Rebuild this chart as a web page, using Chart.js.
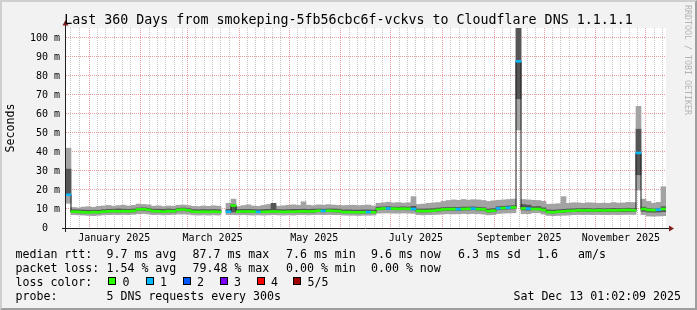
<!DOCTYPE html>
<html>
<head>
<meta charset="utf-8">
<script src="https://cdn.jsdelivr.net/npm/chart.js@4.4.1/dist/chart.umd.min.js"></script>
<style>
  html, body { margin: 0; padding: 0; background: #f2f2f2; }
  #wrap { position: relative; width: 697px; height: 310px; background: #f2f2f2; overflow: hidden;
          font-family: 'DejaVu Sans Mono', monospace; color: #000; }
  #frame { position: absolute; left: 0; top: 0; width: 697px; height: 310px; box-sizing: border-box;
           border-style: solid; border-width: 2px; border-color: #cfcfcf #9e9e9e #9e9e9e #cfcfcf; pointer-events: none; }
  canvas { position: absolute; left: 0; top: 0; }
  #title { position: absolute; left: 0; top: 11.5px; width: 697px; text-align: center; white-space: pre;
           font-size: 13.3px; line-height: 16px; }
  #wm { position: absolute; left: 682.5px; top: 5px; writing-mode: vertical-rl; white-space: pre;
        font-size: 8.3px; line-height: 10px; color: #b4b4b4; }
  .t { position: absolute; white-space: pre; font-size: 11.6px; line-height: 14px; }
  .sw { position: absolute; top: 277px; width: 8px; height: 8px; box-sizing: border-box; border: 1px solid #000; }
</style>
</head>
<body>
<div id="wrap">
  <canvas id="chart" width="697" height="310"></canvas>
  <div id="title">Last 360 Days from smokeping-5fb56cbc6f-vckvs to Cloudflare DNS 1.1.1.1</div>
  <div id="wm">RRDTOOL / TOBI OETIKER</div>

  <span class="t" style="left:15.5px;top:247px">median rtt:</span>
  <span class="t" style="left:106.5px;top:247px">9.7 ms avg</span>
  <span class="t" style="left:192.5px;top:247px">87.7 ms max</span>
  <span class="t" style="left:286px;top:247px">7.6 ms min</span>
  <span class="t" style="left:371px;top:247px">9.6 ms now</span>
  <span class="t" style="left:458px;top:247px">6.3 ms sd</span>
  <span class="t" style="left:537px;top:247px">1.6</span>
  <span class="t" style="left:578px;top:247px">am/s</span>

  <span class="t" style="left:15.5px;top:261px">packet loss:</span>
  <span class="t" style="left:106.5px;top:261px">1.54 % avg</span>
  <span class="t" style="left:192.5px;top:261px">79.48 % max</span>
  <span class="t" style="left:286px;top:261px">0.00 % min</span>
  <span class="t" style="left:371px;top:261px">0.00 % now</span>

  <span class="t" style="left:15.5px;top:275px">loss color:</span>
  <div id="lossKey"></div>

  <span class="t" style="left:15.5px;top:289px">probe:</span>
  <span class="t" style="left:106.5px;top:289px">5 DNS requests every 300s</span>
  <span class="t" style="right:16px;top:289px">Sat Dec 13 01:02:09 2025</span>

  <div id="frame"></div>
</div>
<script>
// 360 days ending Sat Dec 13 01:02:09 2025, read in 3-day buckets (ms)
const BUCKET_DAYS = 3;
const smokeLow = [
  13, 7.0, 6.9, 6.8, 6.6, 6.5, 6.7, 6.9, 7.0, 7.1, 7.0, 7.1, 7.0, 7.2, 7.5, 7.6, 7.4, 7.0, 7.1, 6.9,
  7.0, 7.1, 7.3, 7.4, 7.2, 6.9, 6.8, 6.9, 6.8, 6.9, 6.8, null, 7.0, 7.0, 6.9, 7.0, 6.9, 6.8, 6.9, 6.8,
  6.9, 7.0, 6.9, 6.8, 6.9, 6.8, 7.0, 7.0, 6.9, 7.0, 7.1, 7.0, 7.1, 7.0, 7.0, 6.8, 6.7, 6.7, 6.6, 6.7,
  6.7, 6.8, 7.8, 7.9, 7.9, 7.8, 7.8, 7.9, 7.8, 7.7, 7.0, 6.9, 7.0, 7.1, 7.2, 7.4, 7.5, 7.4, 7.5, 7.6,
  7.5, 7.6, 7.5, 7.3, 6.9, 7.0, 7.6, 7.8, 7.9, 8.0, 51.6, 7.5, 7.5, 8.0, 8.0, 7.3, 6.6, 6.5, 6.6, 6.7,
  6.8, 7.0, 7.1, 7.0, 7.1, 7.0, 7.1, 7.0, 7.0, 7.1, 7.0, 7.1, 7.2, 7.1, 20, 7.0, 6.3, 6.2, 6.3, 6.5
];
const smokeHigh = [
  42, 10.8, 10.6, 11.0, 11.2, 10.9, 11.4, 11.6, 11.9, 11.5, 11.8, 12.0, 11.6, 11.9, 12.6, 12.4, 12.2, 11.5, 11.7, 11.3,
  11.6, 11.5, 12.0, 12.1, 11.8, 11.4, 11.3, 11.6, 11.4, 11.7, 11.5, null, 13.0, 15.2, 11.3, 11.8, 12.2, 11.6, 11.4, 11.9,
  12.4, 11.8, 11.5, 11.7, 12.0, 12.2, 11.9, 13.8, 12.0, 11.8, 12.2, 12.0, 12.3, 12.1, 11.9, 11.8, 11.9, 12.0, 11.8, 11.9,
  12.1, 11.6, 13.0, 13.3, 13.6, 13.2, 13.4, 13.1, 13.3, 16.5, 12.4, 12.6, 13.0, 13.2, 13.4, 14.0, 14.5, 14.8, 14.6, 15.0,
  14.7, 14.9, 14.8, 14.5, 14.0, 14.3, 14.6, 14.8, 15.0, 15.2, 105.3, 15.0, 14.8, 14.6, 14.5, 14.0, 12.5, 12.6, 12.8, 16.5,
  13.0, 13.3, 13.2, 13.0, 13.3, 13.2, 13.0, 13.1, 13.0, 13.4, 13.1, 13.2, 13.5, 13.4, 64, 15.2, 14.0, 13.0, 13.5, 21.7
];
const coreLow = [
  17, 8.2, 8.0, 7.9, 7.9, 8.0, 7.9, 8.2, 8.4, 8.5, 8.4, 8.5, 8.4, 8.5, 9.2, 9.3, 9.0, 8.5, 8.4, 8.3,
  8.5, 8.4, 9.0, 9.1, 8.8, 8.2, 8.1, 8.2, 8.1, 8.2, 8.1, null, 8.3, 8.4, 8.2, 8.2, 8.3, 8.2, 8.1, 8.1,
  8.2, 8.3, 8.2, 8.1, 8.2, 8.1, 8.3, 8.3, 8.2, 8.3, 8.6, 8.5, 8.6, 8.5, 8.4, 8.0, 8.0, 8.0, 7.9, 7.9,
  8.0, 8.0, 9.6, 9.8, 9.8, 9.7, 9.6, 9.7, 9.6, 9.5, 8.5, 8.4, 8.5, 8.6, 8.9, 9.2, 9.3, 9.4, 9.3, 9.4,
  9.5, 9.6, 9.4, 9.2, 8.4, 8.5, 9.6, 9.8, 10.0, 10.1, 68, 9.5, 9.4, 9.6, 9.6, 9.0, 8.0, 7.9, 8.1, 8.3,
  8.5, 8.6, 8.7, 8.6, 8.7, 8.6, 8.7, 8.6, 8.7, 8.7, 8.6, 8.7, 8.8, 8.7, 28, 8.8, 8.4, 8.3, 8.4, 8.6
];
const coreHigh = [
  31, 9.6, 9.5, 9.4, 9.3, 9.4, 9.3, 9.6, 9.8, 9.9, 10.0, 9.9, 9.8, 10.0, 10.5, 10.6, 10.4, 9.9, 9.9, 9.8,
  10.0, 9.8, 10.4, 10.5, 10.2, 9.7, 9.6, 9.7, 9.6, 9.7, 9.6, null, 9.8, 12.3, 9.7, 9.8, 9.8, 9.7, 9.6, 9.7,
  9.8, 13.0, 9.7, 9.6, 9.7, 9.8, 9.8, 9.9, 9.8, 9.9, 10.0, 9.9, 10.0, 10.0, 9.9, 9.5, 9.5, 9.4, 9.4, 9.5,
  9.5, 9.4, 11.0, 11.1, 11.2, 11.0, 11.0, 11.1, 11.0, 11.4, 10.0, 10.0, 10.1, 10.2, 10.5, 10.7, 10.8, 10.9, 10.8, 11.0,
  11.0, 11.1, 10.9, 10.7, 10.0, 10.2, 11.2, 11.4, 11.6, 11.7, 105.3, 12.3, 12.0, 11.2, 11.3, 10.6, 9.5, 9.4, 9.6, 9.8,
  10.0, 10.1, 10.2, 10.2, 10.2, 10.1, 10.2, 10.1, 10.2, 10.3, 10.2, 10.2, 10.4, 10.2, 52, 11.0, 10.2, 10.0, 10.1, 11.2
];
const medianRtt = [
  17.5, 8.6, 8.5, 8.3, 8.2, 8.4, 8.3, 8.6, 8.8, 8.9, 8.8, 8.9, 8.8, 9.0, 9.8, 9.9, 9.6, 8.9, 8.8, 8.6,
  8.9, 8.8, 9.6, 9.7, 9.3, 8.6, 8.5, 8.6, 8.5, 8.6, 8.5, null, 8.6, 11.8, 8.6, 8.7, 8.7, 8.6, 8.5, 8.5,
  8.6, 8.7, 8.6, 8.5, 8.6, 8.6, 8.7, 8.8, 8.7, 8.8, 9.1, 9.0, 9.1, 9.0, 8.9, 8.4, 8.4, 8.3, 8.3, 8.3,
  8.4, 8.3, 10.0, 10.3, 10.3, 10.2, 10.1, 10.2, 10.1, 10.0, 9.0, 8.9, 9.0, 9.1, 9.5, 9.8, 9.9, 10.0, 9.9, 10.0,
  10.1, 10.2, 10.0, 9.8, 8.9, 9.1, 10.3, 10.5, 10.7, 10.8, 87.7, 10.3, 10.2, 10.0, 10.0, 9.5, 8.4, 8.3, 8.6, 8.8,
  9.0, 9.1, 9.3, 9.2, 9.3, 9.2, 9.3, 9.2, 9.3, 9.3, 9.3, 9.4, 9.5, 9.3, 39.5, 10.0, 9.5, 9.4, 9.6, 10.0
];
// number of lost pings (of 5) per bucket
const lossCount = [
  1, 0, 0, 0, 0, 0, 0, 0, 0, 0, 0, 0, 0, 0, 0, 0, 0, 0, 0, 0,
  0, 0, 0, 0, 0, 0, 0, 0, 0, 0, 0, 0, 1, 0, 0, 0, 0, 0, 1, 0,
  0, 0, 0, 0, 0, 0, 0, 0, 0, 0, 0, 1, 0, 0, 0, 0, 0, 0, 0, 0,
  1, 0, 0, 0, 1, 0, 0, 0, 0, 1, 0, 0, 0, 0, 0, 0, 0, 0, 1, 0,
  0, 1, 0, 0, 0, 0, 1, 0, 1, 0, 1, 0, 1, 0, 0, 0, 0, 0, 0, 0,
  0, 0, 0, 0, 0, 0, 0, 0, 0, 0, 0, 0, 0, 0, 1, 0, 0, 0, 1, 0
];

const lossColors = ['#26ff00', '#00b8ff', '#0059ff', '#7e00ff', '#ff0000', '#a10000'];
const lossLabels = ['0', '1', '2', '3', '4', '5/5'];

const yTickValues = [0, 10, 20, 30, 40, 50, 60, 70, 80, 90, 100];
const yTickLabels = ['0  ', '10 m', '20 m', '30 m', '40 m', '50 m', '60 m', '70 m', '80 m', '90 m', '100 m'];
const xLabelMonths = [0, 2, 4, 6, 8, 10];
const xTickLabels = ['January 2025', 'March 2025', 'May 2025', 'July 2025', 'September 2025', 'November 2025'];

const START = Date.UTC(2024, 11, 18, 1, 2, 9);
const SPAN_DAYS = 360;
const Y_MAX = 105.26;
const FONT = 'DejaVu Sans Mono';

// loss color key
const keyLeft = [108, 145.5, 182.5, 219.5, 256.5, 293];
const key = document.getElementById('lossKey');
lossLabels.forEach((lab, i) => {
  const sw = document.createElement('div');
  sw.className = 'sw';
  sw.style.left = keyLeft[i] + 'px';
  sw.style.background = lossColors[i];
  key.appendChild(sw);
  const t = document.createElement('span');
  t.className = 't';
  t.style.left = (keyLeft[i] + 14.5) + 'px';
  t.style.top = '275px';
  t.textContent = lab;
  key.appendChild(t);
});

// x grid: every 5 days inside each month, month starts are major
const dayOf = (y, m, d) => (Date.UTC(y, m, d) - START) / 86400000;
const xGrid = [];
for (let k = 0; k < 13; k++) {
  const y = k === 0 ? 2024 : 2025;
  const m = k === 0 ? 11 : k - 1;
  [1, 6, 11, 16, 21, 26].forEach(d => {
    const v = dayOf(y, m, d);
    if (v > 0 && v < SPAN_DAYS) {
      const li = (y === 2025 && d === 16) ? xLabelMonths.indexOf(m) : -1;
      xGrid.push({ value: v, major: d === 1, label: li >= 0 ? xTickLabels[li] : '' });
    }
  });
}
const yGrid = [];
for (let v = 0; v <= Y_MAX; v += 5) yGrid.push(v);

const center = i => i * BUCKET_DAYS + BUCKET_DAYS / 2;
const band = (lo, hi) => lo.map((v, i) => v == null ? null : { x: center(i), y: [v, hi[i]] }).filter(Boolean);
const medPts = [], medCols = [];
medianRtt.forEach((v, i) => {
  if (v == null) return;
  medPts.push({ x: center(i), y: [v - 0.5, v + 0.5] });
  medCols.push(lossColors[lossCount[i]]);
});
// dark step line under the coloured median (bucket start -> value)
const stepPts = medianRtt.map((v, i) => ({ x: i * BUCKET_DAYS, y: v }));
stepPts.push({ x: SPAN_DAYS, y: medianRtt[medianRtt.length - 1] });

const GRID = 'rgba(150,150,150,0.55)';
const MGRID = 'rgba(222,79,79,0.55)';

const plotFrame = {
  id: 'plotFrame',
  beforeDraw(chart) {
    const { ctx, chartArea: a } = chart;
    ctx.save();
    ctx.fillStyle = '#ffffff';
    ctx.fillRect(a.left, a.top, a.right - a.left, a.bottom - a.top);
    ctx.restore();
  },
  afterDraw(chart) {
    const { ctx, chartArea: a } = chart;
    ctx.save();
    ctx.strokeStyle = '#1f1f1f';
    ctx.lineWidth = 1;
    ctx.beginPath();
    ctx.moveTo(a.left - 4, a.bottom + 0.5);
    ctx.lineTo(a.right + 3, a.bottom + 0.5);
    ctx.moveTo(a.left - 0.5, a.bottom + 4);
    ctx.lineTo(a.left - 0.5, a.top - 3);
    ctx.stroke();
    ctx.fillStyle = '#801f1f';
    ctx.beginPath();
    ctx.moveTo(a.right + 3, a.bottom - 2.5);
    ctx.lineTo(a.right + 8, a.bottom + 0.5);
    ctx.lineTo(a.right + 3, a.bottom + 3.5);
    ctx.closePath();
    ctx.fill();
    ctx.beginPath();
    ctx.moveTo(a.left - 3.5, a.top - 2.5);
    ctx.lineTo(a.left - 0.5, a.top - 8);
    ctx.lineTo(a.left + 2.5, a.top - 2.5);
    ctx.closePath();
    ctx.fill();
    ctx.restore();
  }
};

new Chart(document.getElementById('chart'), {
  type: 'bar',
  data: {
    datasets: [
      { label: 'median', data: medPts, backgroundColor: medCols, order: 1 },
      { type: 'line', label: 'step', data: stepPts, borderColor: '#1a1a1a', borderWidth: 1,
        stepped: true, pointRadius: 0, spanGaps: false, fill: false, order: 2 },
      { label: 'core', data: band(coreLow, coreHigh), backgroundColor: '#555555', order: 3 },
      { label: 'smoke', data: band(smokeLow, smokeHigh), backgroundColor: '#a3a3a3', order: 4 }
    ]
  },
  options: {
    responsive: false,
    animation: false,
    devicePixelRatio: 1,
    events: [],
    layout: { padding: { left: 0, top: 28, right: 31, bottom: 0 } },
    datasets: { bar: { grouped: false, barPercentage: 1, categoryPercentage: 1, borderWidth: 0 } },
    plugins: { legend: { display: false }, tooltip: { enabled: false }, title: { display: false } },
    scales: {
      x: {
        type: 'linear', min: 0, max: SPAN_DAYS, offset: false,
        afterFit: s => { s.height = 82; },
        afterBuildTicks: s => { s.ticks = xGrid.map(g => ({ value: g.value })); },
        grid: {
          offset: false, drawTicks: false,
          color: c => (c.tick && xGrid.find(g => g.value === c.tick.value && g.major)) ? MGRID : GRID
        },
        border: { display: false, dash: [1, 1] },
        ticks: {
          autoSkip: false, maxRotation: 0, minRotation: 0, padding: 4, color: '#000',
          font: { family: FONT, size: 10 },
          callback: v => { const g = xGrid.find(q => q.value === v); return g ? g.label : ''; }
        }
      },
      y: {
        type: 'linear', min: 0, max: Y_MAX,
        afterFit: s => { s.width = 66; },
        afterBuildTicks: s => { s.ticks = yGrid.map(v => ({ value: v })); },
        grid: {
          drawTicks: false,
          color: c => (c.tick && c.tick.value % 10 === 0) ? MGRID : GRID
        },
        border: { display: false, dash: [1, 1] },
        ticks: {
          padding: 6, color: '#000',
          font: { family: FONT, size: 10 },
          callback: v => { const i = yTickValues.indexOf(v); return i >= 0 ? yTickLabels[i] : ''; }
        },
        title: {
          display: true, text: 'Seconds', color: '#000',
          font: { family: FONT, size: 11.6 }, padding: { top: 3.6, bottom: 0 }
        }
      }
    }
  },
  plugins: [plotFrame]
});
</script>
</body>
</html>
